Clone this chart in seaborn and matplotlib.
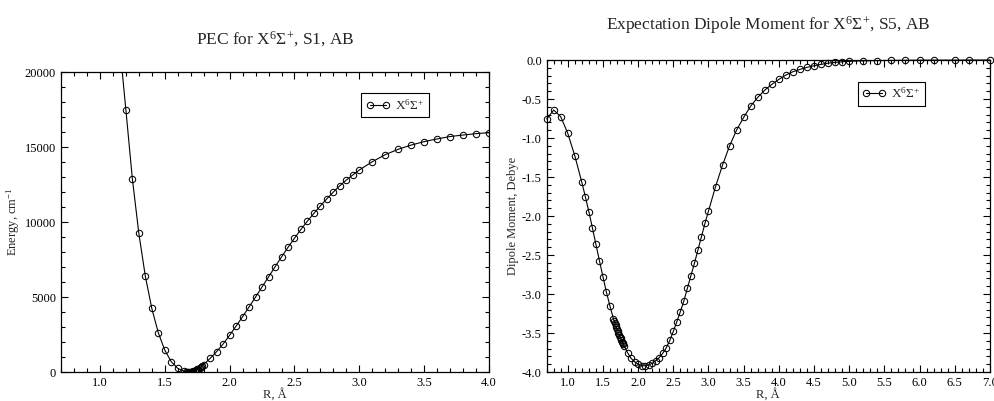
import matplotlib
matplotlib.use("Agg")
import matplotlib.pyplot as plt
from matplotlib.ticker import MultipleLocator, FormatStrFormatter
import seaborn as sns
import pandas as pd

# Potential energy curve of the X6Sigma+ state (R in Angstrom, energy in cm^-1)
pec_r = [1.15, 1.20, 1.25, 1.30, 1.35, 1.40, 1.45, 1.50, 1.55, 1.60,
         1.65, 1.66, 1.67, 1.68, 1.69, 1.70, 1.71, 1.72, 1.73, 1.74,
         1.75, 1.76, 1.77, 1.78, 1.79, 1.80, 1.85, 1.90, 1.95, 2.00,
         2.05, 2.10, 2.15, 2.20, 2.25, 2.30, 2.35, 2.40, 2.45, 2.50,
         2.55, 2.60, 2.65, 2.70, 2.75, 2.80, 2.85, 2.90, 2.95, 3.00,
         3.10, 3.20, 3.30, 3.40, 3.50, 3.60, 3.70, 3.80, 3.90, 4.00]
pec_energy = [22000, 17500, 12900, 9250, 6400, 4240, 2620, 1460, 690, 245,
              40, 18, 5, 0, 4, 14, 31, 56, 87, 125,
              170, 222, 281, 347, 420, 500, 910, 1360, 1870, 2450,
              3060, 3690, 4340, 5000, 5670, 6340, 7010, 7670, 8310, 8920,
              9510, 10060, 10580, 11080, 11550, 12000, 12420, 12800, 13140, 13470,
              14020, 14490, 14850, 15130, 15360, 15540, 15700, 15800, 15890, 15960]

# Expectation dipole moment of the same state (R in Angstrom, Debye)
dm_r = [0.70, 0.80, 0.90, 1.00, 1.10, 1.20, 1.25, 1.30, 1.35, 1.40,
        1.45, 1.50, 1.55, 1.60, 1.65, 1.66, 1.67, 1.68, 1.69, 1.70,
        1.71, 1.72, 1.73, 1.74, 1.75, 1.76, 1.77, 1.78, 1.79, 1.80,
        1.85, 1.90, 1.95, 2.00, 2.05, 2.10, 2.15, 2.20, 2.25, 2.30,
        2.35, 2.40, 2.45, 2.50, 2.55, 2.60, 2.65, 2.70, 2.75, 2.80,
        2.85, 2.90, 2.95, 3.00, 3.10, 3.20, 3.30, 3.40, 3.50, 3.60,
        3.70, 3.80, 3.90, 4.00, 4.10, 4.20, 4.30, 4.40, 4.50, 4.60,
        4.70, 4.80, 4.90, 5.00, 5.20, 5.40, 5.60, 5.80, 6.00, 6.20,
        6.50, 6.70, 7.00]
dm_debye = [-0.756, -0.641, -0.726, -0.940, -1.227, -1.568, -1.752, -1.944, -2.150, -2.363,
            -2.573, -2.778, -2.979, -3.154, -3.321, -3.345, -3.370, -3.395, -3.420, -3.445,
            -3.470, -3.495, -3.520, -3.545, -3.565, -3.590, -3.610, -3.630, -3.647, -3.662,
            -3.752, -3.825, -3.868, -3.900, -3.918, -3.920, -3.910, -3.888, -3.855, -3.815,
            -3.760, -3.690, -3.595, -3.480, -3.355, -3.226, -3.090, -2.927, -2.765, -2.607,
            -2.436, -2.265, -2.094, -1.936, -1.624, -1.346, -1.100, -0.897, -0.735, -0.590,
            -0.479, -0.385, -0.312, -0.248, -0.192, -0.150, -0.120, -0.094, -0.073, -0.056,
            -0.040, -0.030, -0.022, -0.016, -0.010, -0.007, -0.005, -0.003, -0.002, -0.001,
            -0.001, 0.000, 0.000]

state_label = r"X$^{6}\Sigma^{+}$"

sns.set_theme(style="ticks")
plt.rcParams.update({
    "font.family": ["Liberation Serif", "DejaVu Serif"],
    "mathtext.fontset": "custom",
    "mathtext.rm": "Liberation Serif",
    "mathtext.it": "Liberation Serif:italic",
    "mathtext.bf": "Liberation Serif:bold",
    "axes.unicode_minus": False,
    "axes.edgecolor": "black",
    "axes.linewidth": 0.9,
    "xtick.color": "black",
    "ytick.color": "black",
})

fig = plt.figure(figsize=(9.95, 4.01), dpi=100)
ax1 = fig.add_axes([0.0613, 0.0723, 0.4302, 0.7481])
ax2 = fig.add_axes([0.5494, 0.0723, 0.4455, 0.7780])

pec_df = pd.DataFrame({"R": pec_r, "E": pec_energy})
dm_df = pd.DataFrame({"R": dm_r, "D": dm_debye})

line_style = dict(color="black", linewidth=0.8, marker="o", markersize=4.6,
                  markerfacecolor="none", markeredgecolor="black",
                  markeredgewidth=0.75, estimator=None)

sns.lineplot(data=pec_df, x="R", y="E", ax=ax1, label=state_label, **line_style)
sns.lineplot(data=dm_df, x="R", y="D", ax=ax2, label=state_label, **line_style)
for ln in ax2.lines:
    ln.set_clip_on(False)
for ax in (ax1, ax2):
    for ln in ax.lines:
        ln.set_markerfacecolor("none")
        ln.set_markeredgecolor("black")


def style_axes(ax, xlim, ylim, xmaj, xmin, ymaj, ymin, xfmt, yfmt):
    ax.set_xlim(*xlim)
    ax.set_ylim(*ylim)
    ax.xaxis.set_major_locator(MultipleLocator(xmaj))
    ax.xaxis.set_minor_locator(MultipleLocator(xmin))
    ax.yaxis.set_major_locator(MultipleLocator(ymaj))
    ax.yaxis.set_minor_locator(MultipleLocator(ymin))
    ax.xaxis.set_major_formatter(FormatStrFormatter(xfmt))
    ax.yaxis.set_major_formatter(FormatStrFormatter(yfmt))
    ax.tick_params(which="both", direction="in", top=True, right=True,
                   labelsize=9, pad=3.5, width=0.8)
    ax.tick_params(which="major", length=5)
    ax.tick_params(which="minor", length=3)
    for s in ax.spines.values():
        s.set_visible(True)
        s.set_color("black")


style_axes(ax1, (0.7, 4.0), (0, 20000), 0.5, 0.1, 5000, 1000, "%.1f", "%d")
style_axes(ax2, (0.7, 7.0), (-4.0, 0.0), 0.5, 0.1, 0.5, 0.1, "%.1f", "%.1f")

ax1.set_xlabel("R, Å", fontsize=9, labelpad=0)
ax2.set_xlabel("R, Å", fontsize=9, labelpad=0)
ax1.set_ylabel(r"Energy, cm$^{-1}$", fontsize=9, labelpad=2)
ax2.set_ylabel("Dipole Moment, Debye", fontsize=9, labelpad=2)

ax1.set_title(r"PEC for X$^{6}\Sigma^{+}$, S1, AB", fontsize=12.5, pad=20)
ax2.set_title(r"Expectation Dipole Moment for X$^{6}\Sigma^{+}$, S5, AB",
              fontsize=12.5, pad=22)

for ax in (ax1, ax2):
    leg = ax.legend(loc="upper left", bbox_to_anchor=(0.702, 0.93),
                    borderaxespad=0, numpoints=2, handlelength=1.8,
                    fontsize=9.5, frameon=True, fancybox=False,
                    edgecolor="black", framealpha=1, borderpad=0.35,
                    handletextpad=0.4)
    leg.get_frame().set_linewidth(0.8)

fig.savefig("out.png", dpi=100)
